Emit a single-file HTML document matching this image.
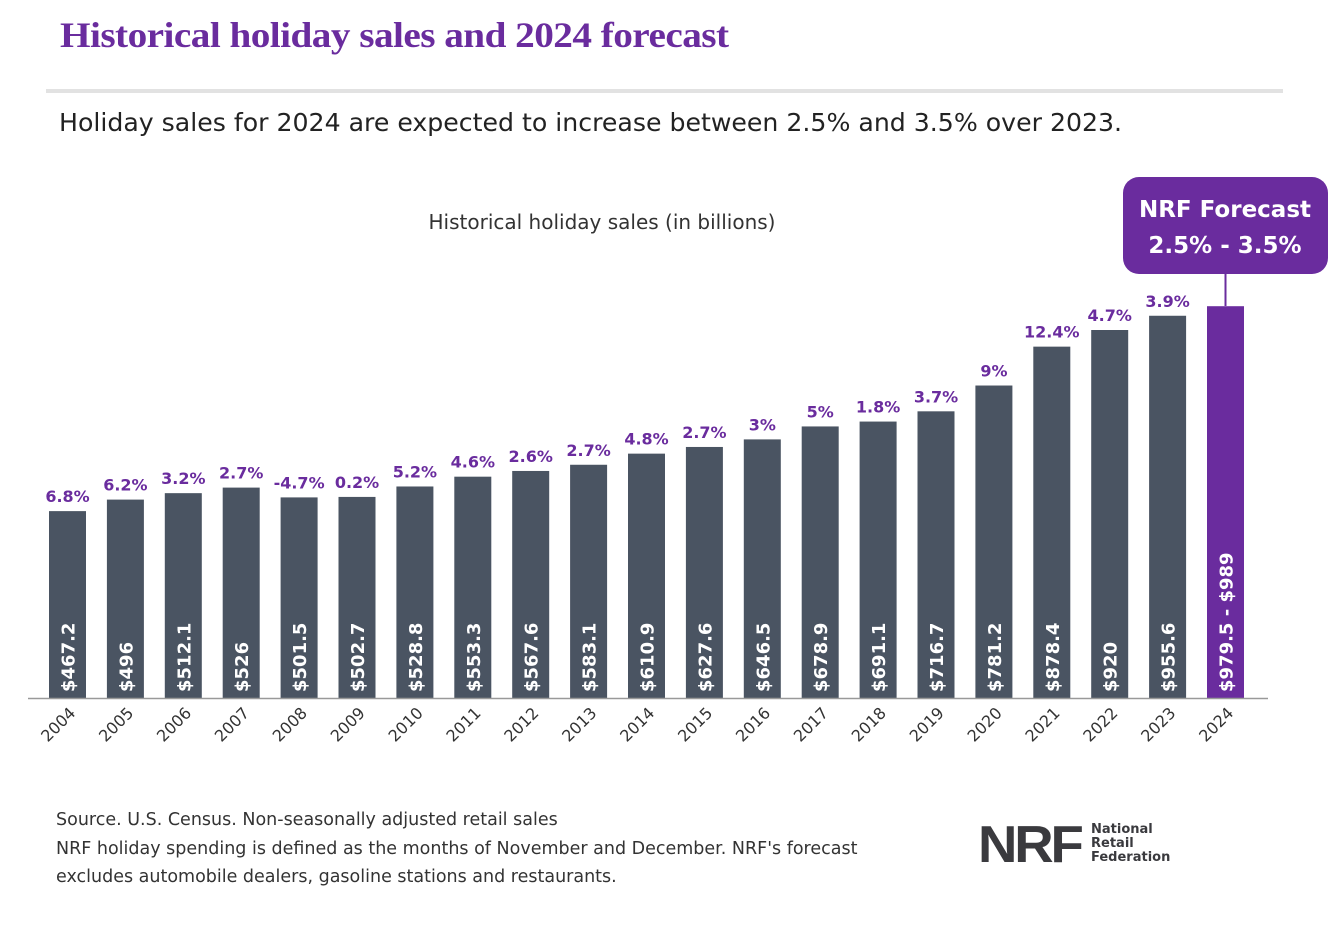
<!DOCTYPE html>
<html><head><meta charset="utf-8"><style>
body{margin:0;width:1333px;height:929px;background:#fff;font-family:"DejaVu Sans","Liberation Sans",sans-serif;overflow:hidden;position:relative}
.abs{position:absolute}
</style></head><body>
<div class="abs" style="left:60px;top:14px;font-family:'Liberation Serif',serif;font-weight:bold;font-size:36px;color:#6a2c9e;letter-spacing:-0.5px;transform:scaleX(1.09);transform-origin:left;white-space:nowrap">Historical holiday sales and 2024 forecast</div>
<div class="abs" style="left:46px;top:89px;width:1237px;height:4px;background:#e2e2e2"></div>
<div class="abs" style="left:59px;top:108px;font-size:25.2px;color:#222;white-space:nowrap">Holiday sales for 2024 are expected to increase between 2.5% and 3.5% over 2023.</div>
<svg class="abs" style="left:0;top:0" width="1333" height="929">
<text x="602" y="229" text-anchor="middle" font-size="20" fill="#333">Historical holiday sales (in billions)</text>
<g id="bars"></g>
<line x1="28" y1="698.5" x2="1268" y2="698.5" stroke="#999" stroke-width="1.5"/>
<rect x="1123" y="177" width="205" height="97" rx="16" fill="#6a2c9e"/>
<text x="1225" y="217" text-anchor="middle" font-size="23" font-weight="bold" fill="#fff">NRF Forecast</text>
<text x="1225" y="253" text-anchor="middle" font-size="23" font-weight="bold" fill="#fff">2.5% - 3.5%</text>
<line x1="1225.5" y1="274" x2="1225.5" y2="306" stroke="#6a2c9e" stroke-width="2"/>
</svg>
<div class="abs" style="left:56px;top:806px;font-size:17.5px;line-height:28.5px;color:#333;white-space:nowrap">Source. U.S. Census. Non-seasonally adjusted retail sales<br>NRF holiday spending is defined as the months of November and December. NRF's forecast<br>excludes automobile dealers, gasoline stations and restaurants.</div>
<div class="abs" style="left:978px;top:819px;font-family:'Liberation Sans',sans-serif;font-size:52px;font-weight:900;color:#3a3a3e;letter-spacing:-3px;line-height:52px;transform:scaleX(1.05);transform-origin:left">NRF</div>
<div class="abs" style="left:1091px;top:823px;font-size:13px;font-weight:bold;color:#3a3a3e;line-height:14px">National<br>Retail<br>Federation</div>
<script>
const years=["2004","2005","2006","2007","2008","2009","2010","2011","2012","2013","2014","2015","2016","2017","2018","2019","2020","2021","2022","2023","2024"];
const sales=[467.2,496,512.1,526,501.5,502.7,528.8,553.3,567.6,583.1,610.9,627.6,646.5,678.9,691.1,716.7,781.2,878.4,920,955.6,979.5];
const valueLabels=["$467.2","$496","$512.1","$526","$501.5","$502.7","$528.8","$553.3","$567.6","$583.1","$610.9","$627.6","$646.5","$678.9","$691.1","$716.7","$781.2","$878.4","$920","$955.6","$979.5 - $989"];
const growth=["6.8%","6.2%","3.2%","2.7%","-4.7%","0.2%","5.2%","4.6%","2.6%","2.7%","4.8%","2.7%","3%","5%","1.8%","3.7%","9%","12.4%","4.7%","3.9%",""];
const NS="http://www.w3.org/2000/svg";
const g=document.getElementById('bars');
const x=i=>67.5+i*57.9;
const y=v=>698-v*0.4;
function mk(t,a){const e=document.createElementNS(NS,t);for(const k in a)e.setAttribute(k,a[k]);g.appendChild(e);return e;}
years.forEach((yr,i)=>{
  const fc=i===years.length-1;
  const r=mk('rect',{x:x(i)-18.5,y:y(sales[i]),width:37,height:698-y(sales[i]),fill:fc?'#6a2c9e':'#4a5462'});
  
  
  const v=mk('text',{x:0,y:0,transform:`translate(${x(i)+7},692) rotate(-90)`,'font-size':18,'font-weight':'bold',fill:'#fff'});
  v.textContent=valueLabels[i];
  
  
  if(growth[i]){
    const t=mk('text',{x:x(i),y:y(sales[i])-9,'text-anchor':'middle','font-size':16,'font-weight':'bold',fill:'#6a2c9e'});
    t.textContent=growth[i];
    
    
  }
  const tk=mk('text',{x:0,y:0,transform:`translate(${x(i)+9},714) rotate(-45)`,'text-anchor':'end','font-size':16,fill:'#333'});
  tk.textContent=yr;
  
  
});
</script>
</body></html>
